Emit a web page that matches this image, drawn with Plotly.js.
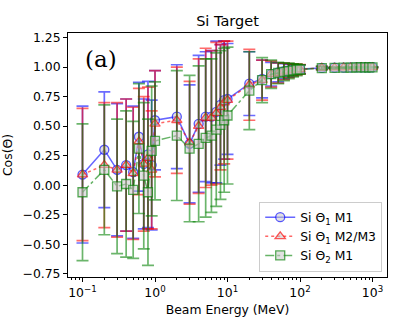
<!DOCTYPE html>
<html>
<head>
<meta charset="utf-8">
<script src="https://cdn.plot.ly/plotly-3.0.1.min.js"></script>
<style>
  html, body { margin: 0; padding: 0; background: #fff; }
  #chart { width: 407px; height: 326px; }
</style>
</head>
<body>
<div id="chart"></div>
<script>
// beam energies (MeV)
const energy = [0.1, 0.2, 0.3, 0.4, 0.5, 0.6, 0.7, 0.8, 0.9, 1,
    2, 3, 4, 5, 6, 7, 8, 9, 10,
    20, 30, 40, 50, 60, 70, 80, 90, 100,
    200, 300, 400, 500, 600, 700, 800, 900, 1000];

// Si theta1, method 1
const cosT1M1 = [0.09, 0.30, 0.13, 0.17, 0.11, 0.41, 0.18, 0.26, 0.17, 0.55,
    0.58, 0.35, 0.52, 0.58, 0.58, 0.62, 0.68, 0.72, 0.73,
    0.86, 0.90, 0.94, 0.955, 0.965, 0.97, 0.975, 0.98, 0.983,
    0.993, 0.995, 0.996, 0.997, 0.997, 0.998, 0.998, 0.998, 0.999];
const errT1M1 = [0.58, 0.49, 0.56, 0.56, 0.56, 0.46, 0.55, 0.62, 0.55, 0.42,
    0.44, 0.50, 0.58, 0.55, 0.56, 0.60, 0.51, 0.50, 0.47,
    0.27, 0.16, 0.10, 0.08, 0.065, 0.055, 0.045, 0.04, 0.035,
    0.012, 0.006, 0.004, 0.003, 0.003, 0.002, 0.002, 0.002, 0.001];

// Si theta1, methods 2/3
const cosT1M23 = [0.09, 0.17, 0.13, 0.17, 0.10, 0.37, 0.18, 0.23, 0.13, 0.52,
    0.55, 0.36, 0.50, 0.57, 0.57, 0.61, 0.66, 0.70, 0.72,
    0.85, 0.89, 0.94, 0.95, 0.963, 0.97, 0.975, 0.98, 0.982,
    0.993, 0.995, 0.996, 0.997, 0.997, 0.998, 0.998, 0.998, 0.999];
const errT1M23 = [0.56, 0.53, 0.57, 0.56, 0.56, 0.45, 0.57, 0.60, 0.50, 0.45,
    0.45, 0.52, 0.57, 0.59, 0.57, 0.60, 0.53, 0.52, 0.50,
    0.30, 0.17, 0.11, 0.085, 0.07, 0.06, 0.05, 0.045, 0.04,
    0.013, 0.006, 0.004, 0.003, 0.003, 0.002, 0.002, 0.002, 0.001];

// Si theta2, method 1
const cosT2M1 = [-0.06, 0.13, -0.01, 0.01, -0.04, 0.31, 0.08, -0.06, 0.29, 0.375,
    0.42, 0.31, 0.35, 0.40, 0.42, 0.47, 0.51, 0.55, 0.59,
    0.80, 0.89, 0.94, 0.95, 0.96, 0.968, 0.973, 0.978, 0.98,
    0.992, 0.994, 0.995, 0.996, 0.997, 0.997, 0.998, 0.998, 0.998];
const errT2M1 = [0.58, 0.55, 0.57, 0.62, 0.58, 0.55, 0.62, 0.62, 0.55, 0.50,
    0.55, 0.62, 0.66, 0.67, 0.65, 0.65, 0.63, 0.61, 0.58,
    0.33, 0.19, 0.12, 0.09, 0.075, 0.065, 0.055, 0.05, 0.04,
    0.014, 0.007, 0.005, 0.004, 0.003, 0.003, 0.002, 0.002, 0.002];

const xTickVals = [0.1, 1, 10, 100, 1000];
const xTickText = ['10<sup>\u22121</sup>', '10<sup>0</sup>', '10<sup>1</sup>', '10<sup>2</sup>', '10<sup>3</sup>'];

const seriesNames = ['Si \u0398<sub>1</sub> M1', 'Si \u0398<sub>1</sub> M2/M3', 'Si \u0398<sub>2</sub> M1'];

const font = 'DejaVu Sans, sans-serif';

function series(name, y, err, rgb, dash, symbol) {
    return {
        x: energy,
        y: y,
        name: name,
        type: 'scatter',
        mode: 'lines+markers',
        line: { color: 'rgba(' + rgb + ',0.6)', width: 1.5, dash: dash },
        marker: {
            symbol: symbol,
            size: 9,
            color: 'rgba(200,200,200,0.55)',
            line: { color: 'rgba(' + rgb + ',0.65)', width: 1.3 }
        },
        error_y: {
            type: 'data',
            array: err,
            visible: true,
            color: 'rgba(' + rgb + ',0.58)',
            thickness: 1.7,
            width: 6
        }
    };
}

const traces = [
    series(seriesNames[0], cosT1M1, errT1M1, '0,0,255', 'solid', 'circle'),
    series(seriesNames[1], cosT1M23, errT1M23, '255,0,0', 'dot', 'triangle-up'),
    series(seriesNames[2], cosT2M1, errT2M1, '0,128,0', 'dashdot', 'square')
];

const layout = {
    width: 407,
    height: 326,
    margin: { l: 68, r: 20, t: 33, b: 49 },
    paper_bgcolor: '#fff',
    plot_bgcolor: '#fff',
    font: { family: font, size: 12, color: '#000' },
    title: {
        text: 'Si Target',
        font: { family: font, size: 14.5, color: '#000' },
        x: 0.5, xref: 'paper', xanchor: 'center',
        y: 1 - 21 / 326, yref: 'container', yanchor: 'middle'
    },
    xaxis: {
        type: 'log',
        range: [-1.2, 3.2],
        tickmode: 'array',
        tickvals: xTickVals,
        ticktext: xTickText,
        ticks: 'outside',
        ticklen: 4,
        tickwidth: 1,
        tickcolor: '#000',
        tickfont: { family: font, size: 12.4 },
        minor: { tickmode: 'linear', dtick: 'D1', ticks: 'outside', ticklen: 2, tickcolor: '#000', showgrid: false },
        showline: true,
        mirror: true,
        linecolor: '#000',
        linewidth: 1,
        showgrid: false,
        zeroline: false,
        title: { text: 'Beam Energy (MeV)', font: { family: font, size: 12.4 }, standoff: 6 }
    },
    yaxis: {
        range: [-0.778, 1.289],
        tickmode: 'linear',
        tick0: 0,
        dtick: 0.25,
        tickformat: '.2f',
        ticks: 'outside',
        ticklen: 4,
        tickwidth: 1,
        tickcolor: '#000',
        tickfont: { family: font, size: 12.4 },
        showline: true,
        mirror: true,
        linecolor: '#000',
        linewidth: 1,
        showgrid: false,
        zeroline: false,
        title: { text: 'Cos(\u0398)', font: { family: font, size: 12.4 }, standoff: 10 }
    },
    legend: {
        x: 0.985, y: 0.022,
        xanchor: 'right', yanchor: 'bottom',
        bgcolor: 'rgba(255,255,255,0.85)',
        bordercolor: '#ccc',
        borderwidth: 1,
        font: { family: font, size: 12.4 },
        itemwidth: 30
    },
    showlegend: true,
    annotations: [{
        text: '(a)',
        xref: 'paper', yref: 'paper',
        x: (101 - 68) / 319, y: (277 - 59) / 244,
        xanchor: 'center', yanchor: 'middle',
        showarrow: false,
        font: { family: 'DejaVu Serif, serif', size: 23, color: '#000' }
    }]
};

Plotly.newPlot('chart', traces, layout, { displayModeBar: false, staticPlot: true });
</script>
</body>
</html>
